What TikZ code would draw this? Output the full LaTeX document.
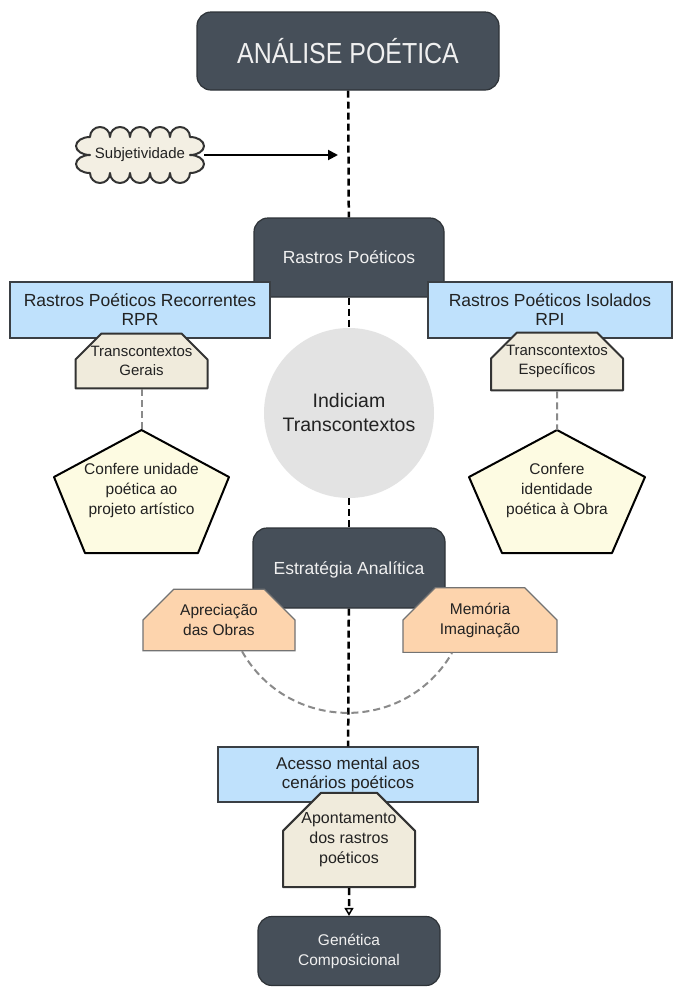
\documentclass[tikz,border=0pt]{standalone}
\usepackage{fontspec}
\setmainfont{Liberation Sans}
\newfontfamily\headfont[FakeStretch=0.86]{Liberation Sans}
\usetikzlibrary{arrows.meta,shapes.misc,calc}

\definecolor{slatefill}{HTML}{464F59}
\definecolor{slateline}{HTML}{2E3338}
\definecolor{skyfill}{HTML}{BFE1FC}
\definecolor{creamfill}{HTML}{F0EBDC}
\definecolor{paleyellow}{HTML}{FDFBE2}
\definecolor{peachfill}{HTML}{FDD4AD}
\definecolor{discgrey}{HTML}{E3E3E3}
\definecolor{inkgrey}{HTML}{222222}
\definecolor{linegrey}{HTML}{3A3F44}
\definecolor{dashgrey}{HTML}{8A8A8A}

\begin{document}
\begin{tikzpicture}[x=1pt,y=-1pt,
  darkbox/.style={rounded corners=14pt, fill=slatefill, draw=slateline,
    line width=1.2pt, text=white!94!black, align=center, inner sep=0pt},
  bluebox/.style={fill=skyfill, draw=linegrey, line width=1.5pt,
    text=inkgrey, align=center, inner sep=0pt,
    font=\fontsize{17.5}{19}\selectfont},
  tagbox/.style={chamfered rectangle,
    chamfered rectangle corners={north west,north east},
    chamfered rectangle xsep=13pt, chamfered rectangle ysep=13pt,
    fill=creamfill, draw=black!80, line width=2pt, line join=round,
    text=inkgrey, align=center, inner sep=0pt,
    font=\fontsize{15}{18.5}\selectfont},
  peachbox/.style={chamfered rectangle,
    chamfered rectangle corners={north west,north east},
    chamfered rectangle xsep=22pt, chamfered rectangle ysep=15pt,
    fill=peachfill, draw=black!55, line width=1.2pt,
    text=inkgrey, align=center, inner sep=0pt,
    font=\fontsize{15.5}{20}\selectfont},
  pentashape/.style={fill=paleyellow, draw=black, line width=2pt, line join=round},
  pentext/.style={text=inkgrey, align=center, inner sep=0pt,
    font=\fontsize{15.5}{20}\selectfont},
  spine/.style={draw=black, line width=2.5pt, dash pattern=on 7pt off 4pt},
  greydash/.style={draw=dashgrey, line width=2pt, dash pattern=on 7pt off 4pt},
  cloudshape/.style={fill=creamfill!80!white, draw=black!80, line width=2pt, line join=round}
]
\fill[white] (0,0) rectangle (677,989);
\useasboundingbox (0,0) rectangle (677,989);

% title
\node[darkbox, minimum width=302pt, minimum height=78pt,
  font=\headfont\fontsize{29}{34}\selectfont] (title) at (348,51) {ANÁLISE POÉTICA};

% subjectivity cloud
\coordinate (subjc) at (140,155);
\begin{scope}[shift={(subjc)}, x=1pt, y=1pt]
  \path[cloudshape] (-50,18)
    arc[start angle=180, end angle=0, radius=10pt]
    arc[start angle=180, end angle=0, radius=10pt]
    arc[start angle=180, end angle=0, radius=10pt]
    arc[start angle=180, end angle=0, radius=10pt]
    arc[start angle=180, end angle=0, radius=10pt]
    arc[start angle=90, end angle=-90, x radius=14pt, y radius=9pt]
    arc[start angle=90, end angle=-90, x radius=14pt, y radius=9pt]
    arc[start angle=0, end angle=-180, radius=10pt]
    arc[start angle=0, end angle=-180, radius=10pt]
    arc[start angle=0, end angle=-180, radius=10pt]
    arc[start angle=0, end angle=-180, radius=10pt]
    arc[start angle=0, end angle=-180, radius=10pt]
    arc[start angle=-90, end angle=-270, x radius=14pt, y radius=9pt]
    arc[start angle=-90, end angle=-270, x radius=14pt, y radius=9pt]
    -- cycle;
\end{scope}
\node[minimum width=128pt, minimum height=56pt, inner sep=0pt, text=inkgrey,
  font=\fontsize{15}{18}\selectfont] (subj) at (subjc) {Subjetividade};
\coordinate (subjtip) at (338,155);

% poetic traces
\node[darkbox, minimum width=190pt, minimum height=79pt,
  font=\fontsize{17.5}{20}\selectfont] (rastros) at (349,257.5) {Rastros Poéticos};
\node[bluebox, minimum width=260pt, minimum height=56pt] (rpr) at (140,310)
  {Rastros Poéticos Recorrentes\\RPR};
\node[bluebox, minimum width=244pt, minimum height=56pt] (rpi) at (550,310)
  {Rastros Poéticos Isolados\\RPI};
\node[tagbox, minimum width=132pt, minimum height=54pt] (gerais) at (141.5,361)
  {Transcontextos\\Gerais};
\node[tagbox, minimum width=132pt, minimum height=54pt] (espec) at (557,361.5)
  {Transcontextos\\Específicos};

% central disc
\node[circle, fill=discgrey, minimum size=170pt, inner sep=0pt, text=inkgrey,
  align=center, font=\fontsize{19.5}{24}\selectfont] (indic) at (349,413)
  {Indiciam\\Transcontextos};

% pentagons
\path[pentashape] (141.5,430) -- (229,477) -- (198,553) -- (85,553) -- (54,477) -- cycle;
\coordinate (unidtop) at (141.5,430);
\node[pentext] (unid) at (141.5,490) {Confere unidade\\poética ao\\projeto artístico};
\path[pentashape] (557,430) -- (645,477) -- (612,553) -- (502,553) -- (469,477) -- cycle;
\coordinate (identtop) at (557,430);
\node[pentext] (ident) at (557,490) {Confere\\identidade\\poética à Obra};

% analytic strategy
\node[darkbox, minimum width=192pt, minimum height=80pt,
  font=\fontsize{17.5}{20}\selectfont, text depth=0pt] (estrat) at (349,568)
  {\raisebox{0pt}{Estratégia Analítica}};
\node[peachbox, minimum width=152pt, minimum height=60pt] (apr) at (219,620)
  {Apreciação\\das Obras};
\node[peachbox, minimum width=154pt, minimum height=60pt] (mem) at (480,620)
  {Memória\\Imaginação};

% mental access
\node[bluebox, minimum width=260pt, minimum height=55pt,
  font=\fontsize{17}{18.5}\selectfont] (acesso) at (348,774.5)
  {Acesso mental aos\\cenários poéticos};
\node[tagbox, chamfered rectangle xsep=18pt, chamfered rectangle ysep=20pt,
  minimum width=132pt, minimum height=84pt,
  font=\fontsize{16}{20}\selectfont] (apont) at (349,840)
  {Apontamento\\dos rastros\\poéticos};
\node[darkbox, minimum width=182pt, minimum height=69pt,
  font=\fontsize{15.5}{20}\selectfont] (genet) at (349,951)
  {Genética\\Composicional};

% connectors
\draw[spine] (title) -- (rastros);
\draw[spine] (rastros) -- (indic);
\draw[spine] (indic) -- (estrat);
\draw[spine] (estrat) -- (acesso);
\draw[spine, -{Triangle[length=8pt, width=9pt, fill=white, line width=1.5pt]}]
  (apont) -- (genet);
\draw[line width=2pt, -{Triangle[length=10pt, width=10pt]}] (subj) -- (subjtip);
\draw[greydash] (gerais) -- (unidtop);
\draw[greydash] (espec) -- (identtop);
\draw[greydash] ([xshift=23pt]apr.south) .. controls +(46,81) and +(-47,81)
  .. ([xshift=-28pt]mem.south);
\end{tikzpicture}
\end{document}
